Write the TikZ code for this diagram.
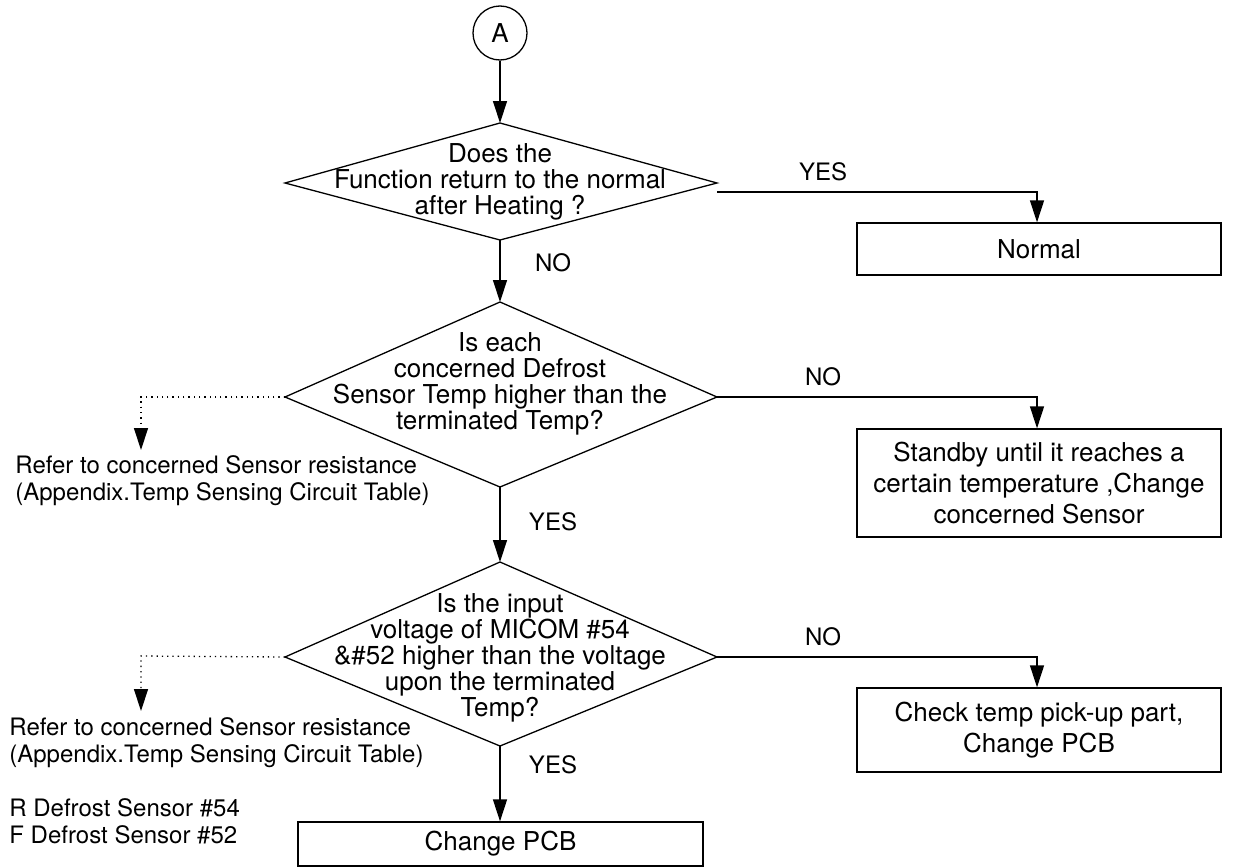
\documentclass[tikz,border=0pt]{standalone}
\usepackage{fontspec}
\setmainfont{TeX Gyre Heros}
\usetikzlibrary{arrows.meta}
\begin{document}
\begin{tikzpicture}[x=0.5pt,y=-0.5pt,
  ln/.style={line width=0.65pt},
  arr/.style={ln,-{Triangle[length=11pt,width=7pt]}},
  darr/.style={ln,dotted,-{Triangle[length=11pt,width=7pt]}},
  qtext/.style={font=\fontsize{13}{13}\selectfont,align=center,inner sep=0pt},
  boxnode/.style={draw,ln,minimum width=182pt,inner sep=0pt,align=center,font=\fontsize{13}{15.5}\selectfont},
  lbl/.style={font=\fontsize{12}{13.5}\selectfont,inner sep=0pt},
  note/.style={font=\fontsize{12}{13.5}\selectfont,inner sep=0pt,align=left,anchor=west}]
\useasboundingbox (0,0) rectangle (1240,867);

% start connector
\node[draw,ln,circle,minimum size=27pt,inner sep=0pt,font=\fontsize{13}{13}\selectfont] (A) at (500,33) {A};

% diamond 1
\coordinate (d1n) at (500,123);
\coordinate (d1e) at (717,183);
\coordinate (d1s) at (500,240);
\coordinate (d1w) at (285,183);
\draw[ln] (d1n) -- (d1e) -- (d1s) -- (d1w) -- cycle;
\node[qtext] (q1) at (500,182) {Does the\\Function return to the normal\\after Heating ?};

% diamond 2
\coordinate (d2n) at (500,302);
\coordinate (d2e) at (717,397);
\coordinate (d2s) at (500,487);
\coordinate (d2w) at (285,397);
\draw[ln] (d2n) -- (d2e) -- (d2s) -- (d2w) -- cycle;
\node[qtext] (q2) at (500,384) {Is each\\concerned Defrost\\Sensor Temp higher than the\\terminated Temp?};

% diamond 3
\coordinate (d3n) at (500,562);
\coordinate (d3e) at (717,657);
\coordinate (d3s) at (500,746);
\coordinate (d3w) at (285,657);
\draw[ln] (d3n) -- (d3e) -- (d3s) -- (d3w) -- cycle;
\node[qtext] (q3) at (500,658) {Is the input\\voltage of MICOM \#54\\\&\#52 higher than the voltage\\upon the terminated\\Temp?};

% boxes
\node[boxnode,minimum height=26pt] (nrm) at (1039,249) {Normal};
\node[boxnode,minimum height=54pt] (stb) at (1039,483) {Standby until it reaches a\\certain temperature ,Change\\concerned Sensor};
\node[boxnode,minimum height=42pt] (chk) at (1039,730) {Check temp pick-up part,\\Change PCB};
\node[draw,ln,minimum width=202.5pt,minimum height=22pt,inner sep=0pt,font=\fontsize{13}{15.5}\selectfont] (pcb) at (500.5,844) {Change PCB};

% vertical flow
\draw[arr] (A) -- (d1n);
\draw[arr] (d1s) -- (d2n);
\draw[arr] (d2s) -- (d3n);
\draw[arr] (d3s) -- (pcb.north -| d3s);

% right branches
\coordinate (r1) at (717,192);
\coordinate (c1) at (1037,192);
\draw[arr] (r1) -- (c1) -- (c1 |- nrm.north);
\coordinate (c2) at (1037,397);
\draw[arr] (d2e) -- (c2) -- (c2 |- stb.north);
\coordinate (c3) at (1037,657);
\draw[arr] (d3e) -- (c3) -- (c3 |- chk.north);

% left dotted branches
\coordinate (l1) at (141,397);
\coordinate (t1) at (141,450);
\draw[darr] (d2w) -- (l1) -- (t1);
\coordinate (l2) at (141,656);
\coordinate (t2) at (141,711);
\draw[darr] (d3w) -- (l2) -- (t2);

% labels
\node[lbl] (yes1) at (823,172) {YES};
\node[lbl] (no1) at (553,263) {NO};
\node[lbl] (no2) at (823,377) {NO};
\node[lbl] (yes2) at (553,522) {YES};
\node[lbl] (no3) at (823,637) {NO};
\node[lbl] (yes3) at (553,765) {YES};

% notes
\node[note] (n1) at (15,481) {Refer to concerned Sensor resistance\\(Appendix.Temp Sensing Circuit Table)};
\node[note] (n2) at (9,743) {Refer to concerned Sensor resistance\\(Appendix.Temp Sensing Circuit Table)};
\node[note] (n3) at (9,821) {R Defrost Sensor \#54\\F Defrost Sensor \#52};
\end{tikzpicture}
\end{document}
